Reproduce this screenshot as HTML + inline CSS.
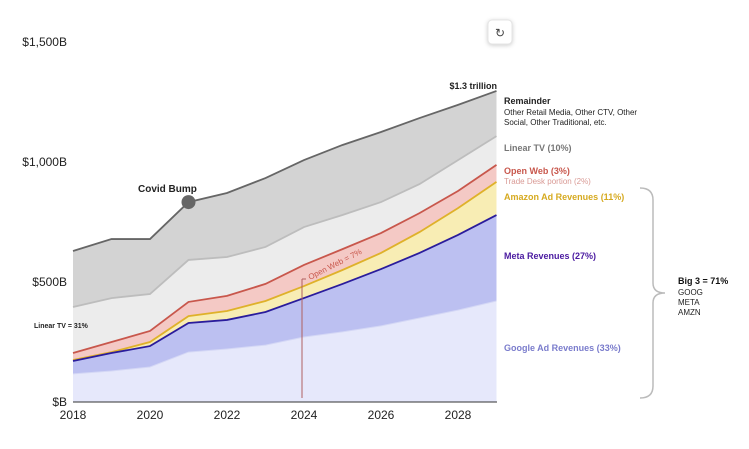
<!DOCTYPE html>
<html><head><meta charset="utf-8"><style>
body{margin:0;background:#fff;font-family:"Liberation Sans",Arial,sans-serif}
svg text{font-family:"Liberation Sans",Arial,sans-serif}
</style></head><body>
<svg width="749" height="444" viewBox="0 0 749 444">
<g>
<rect x="488" y="20" width="24" height="24" rx="4" fill="#fff" stroke="#e4e4e4" style="filter:drop-shadow(0 1px 2px rgba(0,0,0,.2))"/>
<text x="500" y="37" font-size="12" text-anchor="middle" fill="#444">↻</text>
</g>
<g id="areas"></g>
<g id="axes"></g>
<line x1="302" y1="279" x2="302" y2="398" stroke="#b06060" stroke-width="1"/>
<line x1="302" y1="279" x2="306" y2="279" stroke="#b06060" stroke-width="1"/>
<text transform="translate(310,280) rotate(-27)" font-size="8" fill="#c8574c">Open Web = 7%</text>
<text x="138" y="192" font-size="10" font-weight="bold" fill="#222">Covid Bump</text>
<text x="497" y="89" font-size="9" font-weight="bold" fill="#222" text-anchor="end">$1.3 trillion</text>
<text x="34" y="328" font-size="7" font-weight="bold" fill="#222">Linear TV = 31%</text>
<g font-size="9">
<text x="504" y="104" font-weight="bold" fill="#222">Remainder</text>
<text x="504" y="115" font-size="8" fill="#222">Other Retail Media, Other CTV, Other</text>
<text x="504" y="125" font-size="8" fill="#222">Social, Other Traditional, etc.</text>
<text x="504" y="151" font-weight="bold" fill="#777">Linear TV (10%)</text>
<text x="504" y="174" font-weight="bold" fill="#c8574c">Open Web (3%)</text>
<text x="504" y="184" font-size="8" fill="#d99a95">Trade Desk portion (2%)</text>
<text x="504" y="200" font-weight="bold" fill="#d6aa20">Amazon Ad Revenues (11%)</text>
<text x="504" y="259" font-weight="bold" fill="#4a1aa0">Meta Revenues (27%)</text>
<text x="504" y="351" font-weight="bold" fill="#7a7ccc">Google Ad Revenues (33%)</text>
<text x="678" y="284" font-weight="bold" fill="#111">Big 3 = 71%</text>
<text x="678" y="295" font-size="8" fill="#222">GOOG</text>
<text x="678" y="305" font-size="8" fill="#222">META</text>
<text x="678" y="315" font-size="8" fill="#222">AMZN</text>
</g>
<path d="M640,188 Q653,188 653,200 L653,283 Q653,293 665,293 Q653,293 653,303 L653,386 Q653,398 640,398" fill="none" stroke="#bbb" stroke-width="1.5"/>
</svg>
<script>
const years=[2018,2019,2020,2021,2022,2023,2024,2025,2026,2027,2028,2029];
const googleTop=[117,129,146,208,221,237,271,292,317,350,383,421];
const metaTop=[171,204,233,329,342,375,433,492,554,621,696,779];
const amazonTop=[175,208,250,358,379,421,483,550,621,708,808,917];
const openWebTop=[204,250,296,417,442,492,571,637,704,787,879,988];
const linearTvTop=[396,433,450,592,604,646,729,779,833,908,1008,1108];
const totalTop=[629,679,679,833,871,933,1008,1071,1125,1183,1238,1296];
const yTicks=[0,500,1000,1500];
const yTickLabels=["$B","$500B","$1,000B","$1,500B"];
const xTicks=[2018,2020,2022,2024,2026,2028];
const NS="http://www.w3.org/2000/svg";
const x=v=>73+(v-2018)*38.5;
const y=v=>402-v*0.24;
const areas=document.getElementById('areas'),axes=document.getElementById('axes');
const layers=[
 [totalTop,linearTvTop,'#d3d3d3','#666','remainder'],
 [linearTvTop,openWebTop,'#ececec','#bdbdbd','linear-tv'],
 [openWebTop,amazonTop,'#f4c9c5','#c8574c','open-web'],
 [amazonTop,metaTop,'#f8edb4','#dfb12a','amazon'],
 [metaTop,googleTop,'#bcc0f1','#2a1c9c','meta'],
 [googleTop,null,'#e6e8fb','#d4d7f5','google']];
layers.forEach(([top,bot,fill,stroke,name])=>{
 const tp=years.map((yr,i)=>x(yr)+','+y(top[i]));
 const bp=years.map((yr,i)=>x(yr)+','+y(bot?bot[i]:0)).reverse();
 const p=document.createElementNS(NS,'polygon');
 p.setAttribute('points',tp.concat(bp).join(' '));
 p.setAttribute('fill',fill);
 
 
 areas.appendChild(p);
 const l=document.createElementNS(NS,'polyline');
 l.setAttribute('points',tp.join(' '));
 l.setAttribute('fill','none');l.setAttribute('stroke',stroke);
 l.setAttribute('stroke-width',name==='google'?1:1.8);
 
 
 areas.appendChild(l);
});
const dot=document.createElementNS(NS,'circle');
dot.setAttribute('cx',x(2021));dot.setAttribute('cy',y(totalTop[3]));dot.setAttribute('r',7);dot.setAttribute('fill','#666');


areas.appendChild(dot);
const ax=document.createElementNS(NS,'line');
ax.setAttribute('x1',73);ax.setAttribute('x2',497);ax.setAttribute('y1',y(0));ax.setAttribute('y2',y(0));ax.setAttribute('stroke','#333');


axes.appendChild(ax);
yTicks.forEach((v,i)=>{const t=document.createElementNS(NS,'text');
 t.setAttribute('x',67);t.setAttribute('y',y(v)+4);t.setAttribute('text-anchor','end');t.setAttribute('font-size','12');t.setAttribute('fill','#222');
 t.textContent=yTickLabels[i];
 
 
 axes.appendChild(t);});
xTicks.forEach(v=>{const t=document.createElementNS(NS,'text');
 t.setAttribute('x',x(v));t.setAttribute('y',419);t.setAttribute('text-anchor','middle');t.setAttribute('font-size','12');t.setAttribute('fill','#222');
 t.textContent=v;
 
 
 axes.appendChild(t);});
</script>
</body></html>
